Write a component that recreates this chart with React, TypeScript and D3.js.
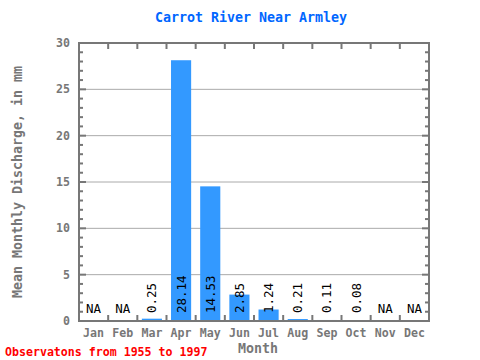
import { useEffect, useRef } from "react";
import * as d3 from "d3";

const months = ["Jan", "Feb", "Mar", "Apr", "May", "Jun", "Jul", "Aug", "Sep", "Oct", "Nov", "Dec"];
const discharge: (number | null)[] = [null, null, 0.25, 28.14, 14.53, 2.85, 1.24, 0.21, 0.11, 0.08, null, null];
const yTicks = [0, 5, 10, 15, 20, 25, 30];

const FONT = "'DejaVu Sans Mono', 'Liberation Mono', monospace";
const AXIS = "#777777";

const App = () => {
  const svgRef = useRef<SVGSVGElement>(null);

  useEffect(() => {
    if (!svgRef.current) return;
    const svg = d3.select(svgRef.current);
    svg.selectAll("*").remove();

    const left = 79;
    const right = 429;
    const top = 43;
    const bottom = 321;

    const x = d3.scaleBand<string>().domain(months).range([left, right]).paddingInner(0.31).paddingOuter(0.155);
    const xb = d3.scaleLinear().domain([0, 12]).range([left, right]);
    const y = d3.scaleLinear().domain([0, 30]).range([bottom, top]);

    // grid
    svg.append("g")
      .selectAll("line")
      .data(yTicks.filter((t) => t > 0 && t < 30))
      .join("line")
      .attr("x1", left).attr("x2", right)
      .attr("y1", (d) => y(d)).attr("y2", (d) => y(d))
      .attr("stroke", "#aaaaaa").attr("stroke-width", 1);

    // bars
    svg.append("g")
      .selectAll("rect")
      .data(months.map((m, i) => ({ m, v: discharge[i] })).filter((d) => d.v !== null))
      .join("rect")
      .attr("x", (d) => x(d.m)!)
      .attr("width", x.bandwidth())
      .attr("y", (d) => y(d.v as number))
      .attr("height", (d) => Math.max(bottom - y(d.v as number), 0))
      .attr("fill", "#3399ff");

    // frame
    svg.append("rect")
      .attr("x", left).attr("y", top)
      .attr("width", right - left).attr("height", bottom - top)
      .attr("fill", "none").attr("stroke", AXIS).attr("stroke-width", 2);

    // month boundary ticks
    const bTicks = d3.range(1, 12);
    const tg = svg.append("g").attr("stroke", AXIS).attr("stroke-width", 2);
    tg.selectAll("line.t").data(bTicks).join("line").attr("class", "t")
      .attr("x1", (d) => xb(d)).attr("x2", (d) => xb(d))
      .attr("y1", top).attr("y2", top + 6);
    tg.selectAll("line.b").data(bTicks).join("line").attr("class", "b")
      .attr("x1", (d) => xb(d)).attr("x2", (d) => xb(d))
      .attr("y1", bottom).attr("y2", bottom - 6);

    // y minor/major ticks
    const minor = d3.range(1, 30);
    tg.selectAll("line.l").data(minor).join("line").attr("class", "l")
      .attr("x1", left).attr("x2", (d) => left + (d % 5 === 0 ? 7 : 4))
      .attr("y1", (d) => y(d)).attr("y2", (d) => y(d));
    tg.selectAll("line.r").data(minor).join("line").attr("class", "r")
      .attr("x1", right).attr("x2", (d) => right - (d % 5 === 0 ? 7 : 4))
      .attr("y1", (d) => y(d)).attr("y2", (d) => y(d));

    // y tick labels
    svg.append("g")
      .selectAll("text")
      .data(yTicks)
      .join("text")
      .attr("x", 70).attr("y", (d) => y(d) + 4)
      .attr("text-anchor", "end")
      .attr("font-family", FONT).attr("font-size", 11.6).attr("font-weight", "bold")
      .attr("fill", AXIS)
      .text((d) => d);

    // month labels
    svg.append("g")
      .selectAll("text")
      .data(months)
      .join("text")
      .attr("x", (d) => x(d)! + x.bandwidth() / 2).attr("y", 337)
      .attr("text-anchor", "middle")
      .attr("font-family", FONT).attr("font-size", 11.6).attr("font-weight", "bold")
      .attr("fill", AXIS)
      .text((d) => d);

    // value labels
    const lab = svg.append("g").attr("font-family", FONT).attr("font-size", 12.5).attr("fill", "#000");
    months.forEach((m, i) => {
      const v = discharge[i];
      const cx = x(m)! + x.bandwidth() / 2;
      if (v === null) {
        lab.append("text").attr("x", cx).attr("y", 313).attr("text-anchor", "middle").text("NA");
      } else {
        lab.append("text")
          .attr("transform", `translate(${cx + 4.5},313) rotate(-90)`)
          .attr("text-anchor", "start")
          .text(v.toFixed(2));
      }
    });

    // titles
    svg.append("text")
      .attr("x", 251).attr("y", 22).attr("text-anchor", "middle")
      .attr("font-family", FONT).attr("font-size", 13.3).attr("font-weight", "bold")
      .attr("fill", "#0066ff")
      .text("Carrot River Near Armley");

    svg.append("text")
      .attr("transform", `translate(22,${(top + bottom) / 2}) rotate(-90)`)
      .attr("text-anchor", "middle")
      .attr("font-family", FONT).attr("font-size", 13.3).attr("font-weight", "bold")
      .attr("fill", AXIS)
      .text("Mean Monthly Discharge, in mm");

    svg.append("text")
      .attr("x", 258).attr("y", 353).attr("text-anchor", "middle")
      .attr("font-family", FONT).attr("font-size", 13.3).attr("font-weight", "bold")
      .attr("fill", AXIS)
      .text("Month");

    svg.append("text")
      .attr("x", 5).attr("y", 356)
      .attr("font-family", FONT).attr("font-size", 11.6).attr("font-weight", "bold")
      .attr("fill", "#ff0000")
      .text("Observatons from 1955 to 1997");
  }, []);

  return (
    <svg
      ref={svgRef}
      width={480}
      height={360}
      style={{ position: "fixed", left: 0, top: 0, background: "#fff", display: "block" }}
    />
  );
};

export default App;
